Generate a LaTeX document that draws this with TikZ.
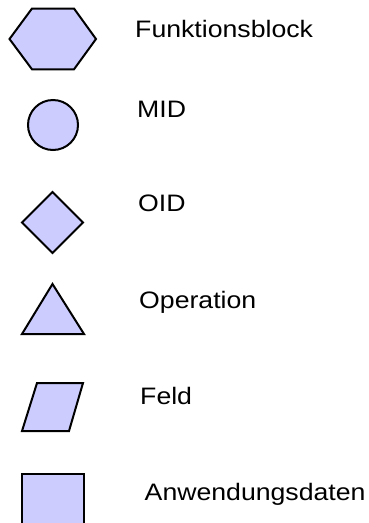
\documentclass[tikz,border=0pt]{standalone}
\usepackage{fontspec}
\setmainfont{Liberation Sans}
\definecolor{symfill}{RGB}{204,204,255}
\tikzset{
  legendshape/.style={draw=black, fill=symfill, line width=2pt, line join=miter},
  legendtext/.style={anchor=base west, inner sep=0pt, xscale=1.12,
    font=\fontsize{23.8}{28}\selectfont}
}
\begin{document}
\begin{tikzpicture}[x=1pt,y=-1pt]
  \useasboundingbox (0,0) rectangle (368,523);
  \clip (0,0) rectangle (368,523);
  % symbols
  \draw[legendshape] (9.5,39) -- (32,8.5) -- (74,8.5) -- (96,39) -- (74,69.3) -- (32,69.3) -- cycle;
  \draw[legendshape] (53,125) circle (25);
  \draw[legendshape] (52.5,192) -- (83,222.5) -- (52.5,253) -- (22,222.5) -- cycle;
  \draw[legendshape] (52.5,284) -- (84,334) -- (22,334) -- cycle;
  \draw[legendshape] (37,383) -- (83,383) -- (69,431) -- (22,431) -- cycle;
  \draw[legendshape] (22,474) rectangle (84,540);
  % labels
  \node[legendtext] (funk) at (135,37.3) {Funktionsblock};
  \node[legendtext] (mid)  at (137,117) {MID};
  \node[legendtext] (oid)  at (138,211) {OID};
  \node[legendtext] (op)   at (139,308) {Operation};
  \node[legendtext] (feld) at (140,404) {Feld};
  \node[legendtext] (anw)  at (144.5,500) {Anwendungsdaten};
\end{tikzpicture}
\end{document}
